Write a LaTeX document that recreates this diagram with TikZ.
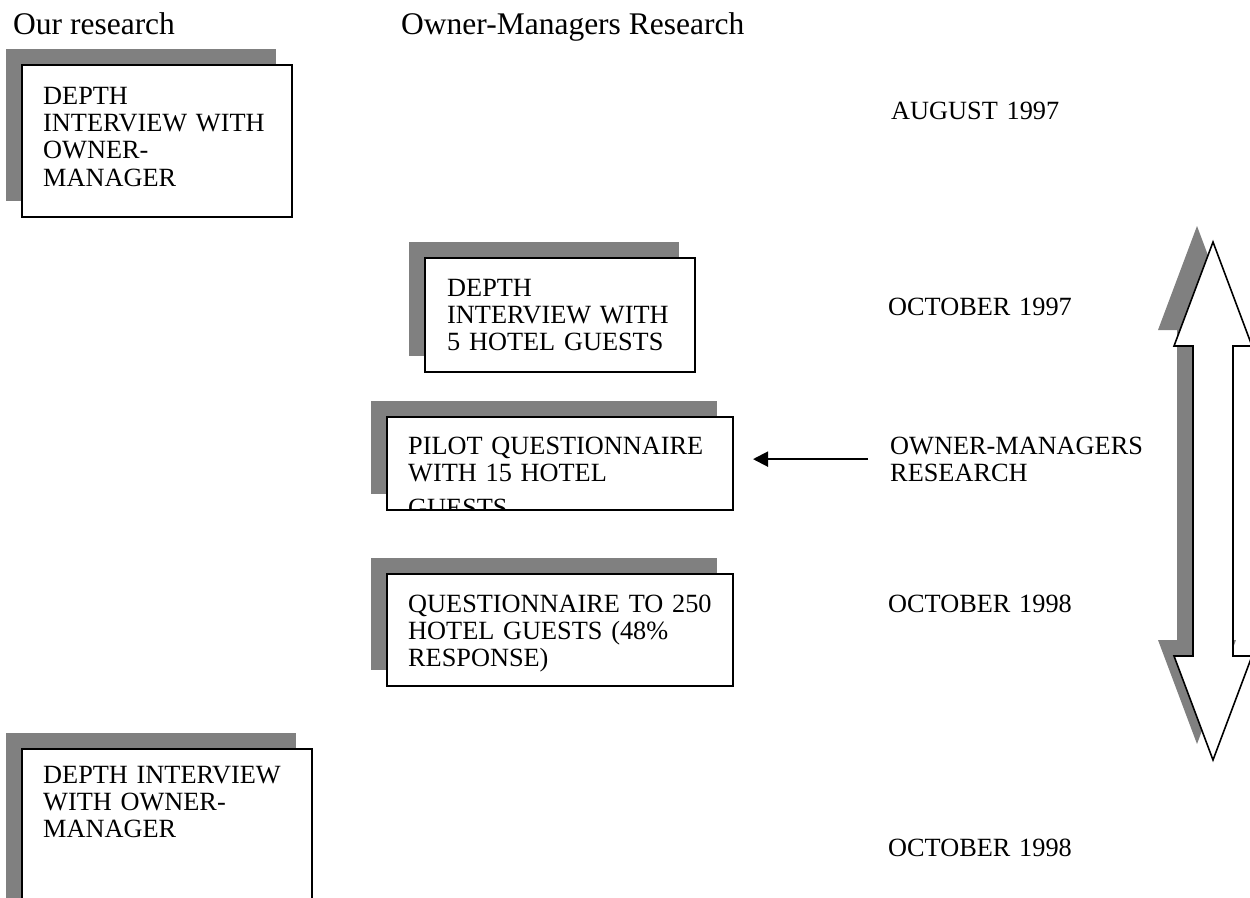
\documentclass[tikz,border=0pt]{standalone}
\usepackage{fontspec}
\setmainfont{Liberation Serif}
\usetikzlibrary{shadows,arrows.meta,calc}
\definecolor{shgray}{HTML}{808080}
\tikzset{
 shd/.style={drop shadow={shadow xshift=-16pt,shadow yshift=16pt,fill=shgray,opacity=1}},
 box/.style={draw,fill=white,line width=1.6pt,shd,anchor=north west,inner sep=0pt,outer sep=0pt},
 txt/.style={font=\fontsize{26.3}{27.4}\selectfont,anchor=base west,align=left,text width=12cm,inner sep=0pt},
 hdr/.style={font=\fontsize{31.5}{34}\selectfont,anchor=base west,inner sep=0pt},
 conn/.style={line width=2pt,-{Triangle[length=15pt,width=15pt]}},
}
\begin{document}
\begin{tikzpicture}[x=1pt,y=-1pt]
\path[use as bounding box,clip] (0,0) rectangle (1250,897);

% headers
\node[hdr] (h1) at (13,34) {Our research};
\node[hdr] (h2) at (401,34) {Owner-Managers Research};

% boxes
\node[box,minimum width=270pt,minimum height=152pt] (b1) at (22,65) {};
\node[txt] (t1) at ($(b1.north west)+(21,39)$) {DEPTH\\INTERVIEW WITH\\OWNER-\\MANAGER};

\node[box,minimum width=270pt,minimum height=114pt] (b2) at (425,258) {};
\node[txt] (t2) at ($(b2.north west)+(22,38)$) {DEPTH\\INTERVIEW WITH\\5 HOTEL GUESTS};

\node[box,minimum width=346pt,minimum height=93pt] (b3) at (387,417) {};
\begin{scope}
\clip ($(b3.north west)+(1,1)$) rectangle ($(b3.south east)+(-1,-1)$);
\node[txt] (t3) at ($(b3.north west)+(21,37)$) {PILOT QUESTIONNAIRE\\WITH 15 HOTEL\\[8pt]GUESTS};
\end{scope}

\node[box,minimum width=346pt,minimum height=112pt] (b4) at (387,574) {};
\node[txt] (t4) at ($(b4.north west)+(21,38)$) {QUESTIONNAIRE TO 250\\HOTEL GUESTS (48\%\\RESPONSE)};

\node[box,minimum width=290pt,minimum height=200pt] (b5) at (22,749) {};
\node[txt] (t5) at ($(b5.north west)+(21,34)$) {DEPTH INTERVIEW\\WITH OWNER-\\MANAGER};

% right labels
\node[txt] (l1) at (891,119) {AUGUST 1997};
\node[txt] (l2) at (888,315) {OCTOBER 1997};
\node[txt] (l3) at (890,454) {OWNER-MANAGERS\\RESEARCH};
\node[txt] (l4) at (888,612) {OCTOBER 1998};
\node[txt] (l5) at (888,856) {OCTOBER 1998};

% arrow
\draw[conn] ($(l3.west)+(-22,0)$) -- ($(b3.east |- l3.west)+(20,0)$);

% double arrow
\coordinate (da) at (1213,501);
\draw[line width=1.6pt,fill=white,shd,line join=miter]
  ($(da)+(0,-259)$) -- ++(39,104) -- ++(-19,0) -- ++(0,310) -- ++(19,0)
  -- ($(da)+(0,259)$) -- ++(-39,-104) -- ++(19,0) -- ++(0,-310) -- ++(-19,0) -- cycle;
\end{tikzpicture}
\end{document}
